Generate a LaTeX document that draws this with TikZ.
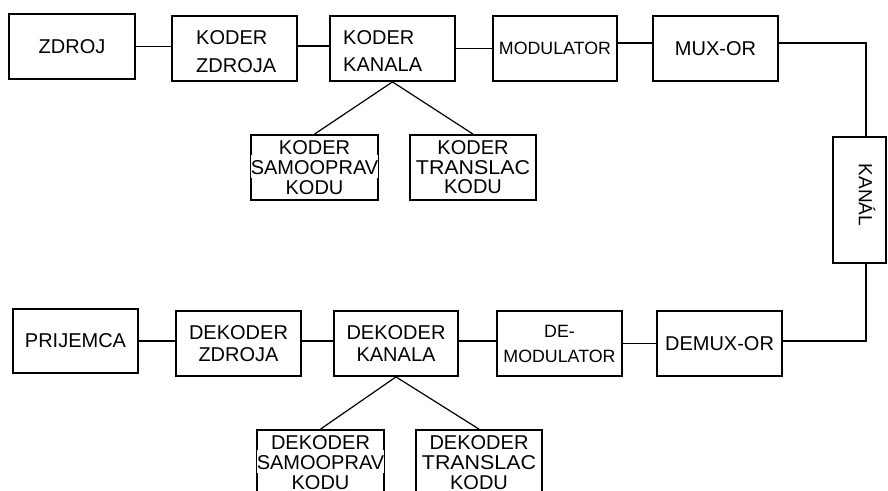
\documentclass[tikz,border=0pt]{standalone}
\usepackage{fontspec}
\setmainfont{Liberation Sans}
\newcommand\wb[1]{\smash{{\setlength{\fboxsep}{0pt}\colorbox{white}{\rule[-4pt]{0pt}{23pt}#1}}}}
\begin{document}
\begin{tikzpicture}[x=1pt,y=-1pt,
  box/.style={draw,line width=1.8pt,inner sep=0pt,minimum width=125pt,minimum height=65pt,align=center,font=\fontsize{20}{20}\selectfont},
  lbl/.style={inner sep=0pt,align=left,font=\fontsize{20}{28}\selectfont},
  link/.style={line width=1.7pt},
  branch/.style={line width=1.2pt}]
\fill[white] (0,0) rectangle (888,490);
\useasboundingbox (0,0) rectangle (888,490);
\clip (0,0) rectangle (888,490);
% top row
\node[box,minimum width=126pt] (zdroj) at (72,46.5) {ZDROJ};
\node[box] (kz) at (234.5,48.5) {};
\node[lbl,anchor=west] (kzt) at (196,52) {KODER\\ZDROJA};
\node[box] (kk) at (392.5,48.5) {};
\node[lbl,anchor=west,font=\fontsize{20}{27}\selectfont] (kkt) at (343,51.5) {KODER\\KANALA};
\node[box,minimum width=124pt,font=\fontsize{17.8}{20}\selectfont] (mod) at (555,48.5) {MODULATOR};
\node[box] (mux) at (715.5,48.5) {MUX-OR};
\node[box,minimum width=53pt,minimum height=126pt] (kan) at (859.5,200) {};
\node[inner sep=0pt,rotate=-90,font=\fontsize{19}{19}\selectfont] (kant) at (867,195) {KANÁL};
\node[box] (ksam) at (314.5,167.5) {KODER\\\wb{SAMOOPRAV}\\KODU};
\node[box,minimum width=126pt,font=\fontsize{20}{19.5}\selectfont] (ktr) at (473,167.5) {KODER\\\wb{\scalebox{1.07}[1]{TRANSLAC}}\\KODU};
% bottom row
\node[box,minimum height=64pt] (pri) at (75.5,341) {PRIJEMCA};
\node[box,font=\fontsize{20}{22}\selectfont] (dz) at (238.5,343.5) {DEKODER\\ZDROJA};
\node[box,minimum width=124pt,font=\fontsize{20}{22}\selectfont] (dk) at (396,343.5) {DEKODER\\KANALA};
\node[box,font=\fontsize{17.8}{25}\selectfont] (demod) at (559.5,343.5) {DE-\\MODULATOR};
\node[box] (demux) at (719.5,343.5) {DEMUX-OR};
\node[box] (dsam) at (320.5,462.5) {DEKODER\\\wb{SAMOOPRAV}\\KODU};
\node[box,minimum width=126pt] (dtr) at (479,462.5) {DEKODER\\\wb{\scalebox{1.07}[1]{TRANSLAC}}\\KODU};
% connectors top
\draw[link] (zdroj.east) -- (zdroj.east -| kz.west);
\draw[link] ([yshift=2.5pt]kz.east) -- ([yshift=2.5pt]kz.east -| kk.west);
\draw[link] (kk.east) -- (kk.east -| mod.west);
\draw[link] ([yshift=5.5pt]mod.east) -- ([yshift=5.5pt]mod.east -| mux.west);
\draw[link] ([yshift=5.5pt]mux.east) -| ([xshift=6.5pt]kan.north);
\draw[branch] (kk.south) -- (ksam.north);
\draw[branch] (kk.south) -- (ktr.north);
% connectors bottom
\draw[link] (pri.east) -- (pri.east -| dz.west);
\draw[link] ([yshift=2.5pt]dz.east) -- ([yshift=2.5pt]dz.east -| dk.west);
\draw[link] ([yshift=2.5pt]dk.east) -- ([yshift=2.5pt]dk.east -| demod.west);
\draw[link] (demod.east) -- (demod.east -| demux.west);
\draw[link] ([yshift=2.5pt]demux.east) -| ([xshift=6.5pt]kan.south);
\draw[branch] (dk.south) -- (dsam.north);
\draw[branch] (dk.south) -- (dtr.north);
\end{tikzpicture}
\end{document}
